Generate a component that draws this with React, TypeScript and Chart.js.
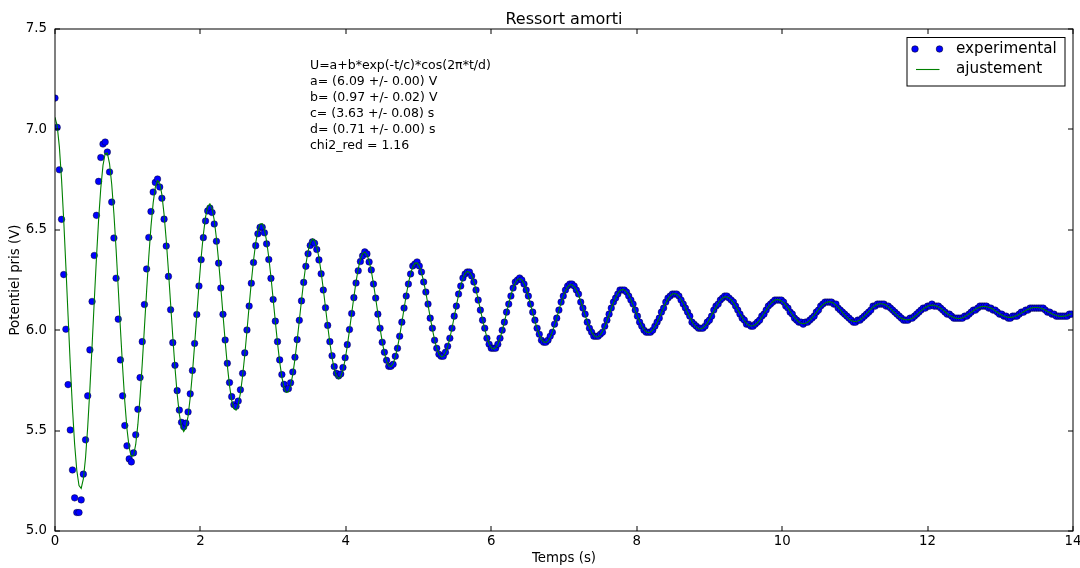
import React, { useEffect, useRef } from 'react';
import { Chart, registerables } from 'chart.js';

Chart.register(...registerables);

// Sampling interval of the acquisition (s), read from the spacing of the points
const SAMPLE_STEP = 0.03;

// Measured potential (V), one value per sample
const experimental: number[] = [
  7.156, 7.010, 6.799, 6.552, 6.277, 6.005, 5.729, 5.503, 5.304, 5.165,
  5.092, 5.092, 5.155, 5.283, 5.454, 5.673, 5.902, 6.143, 6.372, 6.572,
  6.741, 6.860, 6.927, 6.937, 6.887, 6.788, 6.638, 6.459, 6.259, 6.055,
  5.852, 5.673, 5.525, 5.424, 5.359, 5.344, 5.389, 5.479, 5.606, 5.764,
  5.943, 6.128, 6.305, 6.462, 6.591, 6.688, 6.736, 6.753, 6.713, 6.657,
  6.553, 6.419, 6.268, 6.102, 5.938,
  5.825, 5.699, 5.602, 5.541, 5.519, 5.537, 5.593, 5.683, 5.799, 5.934,
  6.078, 6.220, 6.351, 6.461, 6.544, 6.594,
  6.608, 6.586, 6.529, 6.443, 6.334, 6.210, 6.079, 5.951, 5.835, 5.739,
  5.669, 5.629, 5.621, 5.647, 5.703, 5.785, 5.887, 6.001, 6.120, 6.234,
  6.337, 6.421, 6.480, 6.512, 6.513, 6.485, 6.430, 6.352, 6.258, 6.153,
  6.045, 5.943, 5.852, 5.779, 5.730, 5.706, 5.709, 5.738, 5.792, 5.865,
  5.953, 6.049, 6.146, 6.238, 6.318, 6.381, 6.422, 6.440, 6.433, 6.402,
  6.350, 6.281, 6.200, 6.112, 6.024, 5.943, 5.873, 5.819, 5.785, 5.772,
  5.782, 5.814, 5.863, 5.928, 6.003, 6.083, 6.162, 6.235, 6.296, 6.342,
  6.370,
  6.39, 6.38, 6.34, 6.30, 6.23, 6.16, 6.08, 6.01, 5.94, 5.89,
  5.85, 5.82, 5.82, 5.83, 5.87, 5.91, 5.97, 6.04, 6.11, 6.17,
  6.23, 6.28, 6.32, 6.33, 6.34, 6.32, 6.29, 6.24, 6.19, 6.13,
  6.06, 6.01, 5.95, 5.91, 5.88, 5.87, 5.87, 5.89, 5.92, 5.96,
  6.01, 6.07, 6.12, 6.18, 6.22, 6.26, 6.28, 6.29, 6.29, 6.27,
  6.24, 6.20, 6.15, 6.10, 6.05, 6.01, 5.96, 5.93, 5.91, 5.91,
  5.91, 5.93, 5.96, 6.00, 6.04, 6.09, 6.13, 6.17, 6.21, 6.24,
  6.25,
  6.26, 6.25, 6.23, 6.20, 6.17, 6.13, 6.09, 6.05, 6.01, 5.98,
  5.95, 5.94, 5.94, 5.95, 5.97, 5.99, 6.03, 6.06, 6.10, 6.14,
  6.17, 6.20, 6.22, 6.23, 6.23, 6.22, 6.20, 6.18, 6.14, 6.11,
  6.08, 6.04, 6.01, 5.99, 5.97, 5.97, 5.97, 5.98, 5.99, 6.02,
  6.05, 6.08, 6.11, 6.14, 6.16, 6.18, 6.20, 6.20, 6.20, 6.19,
  6.17, 6.15, 6.13, 6.10, 6.07, 6.04, 6.02, 6.00, 5.99, 5.99,
  5.99, 6.00, 6.02, 6.04, 6.06, 6.09, 6.11, 6.14, 6.16, 6.17,
  6.18,
  6.18, 6.18, 6.17, 6.15, 6.13, 6.11, 6.09, 6.07, 6.04, 6.03,
  6.02, 6.01, 6.01, 6.01, 6.02, 6.04, 6.05, 6.07, 6.10, 6.12,
  6.13, 6.15, 6.16, 6.17, 6.17, 6.16, 6.15, 6.14, 6.12, 6.10,
  6.08, 6.06, 6.05, 6.03, 6.03, 6.02, 6.02, 6.03, 6.04, 6.05,
  6.07, 6.08, 6.10, 6.12, 6.13, 6.14, 6.15, 6.15, 6.15, 6.15,
  6.14, 6.12, 6.11, 6.09, 6.08, 6.06, 6.05, 6.04, 6.04, 6.03,
  6.04, 6.04, 6.05, 6.06, 6.07, 6.09, 6.10, 6.12, 6.13, 6.14,
  6.14,
  6.14, 6.14, 6.13, 6.13, 6.11, 6.10, 6.09, 6.08, 6.07, 6.06,
  6.05, 6.04, 6.04, 6.05, 6.05, 6.06, 6.07, 6.08, 6.09, 6.10,
  6.12, 6.12, 6.13, 6.13, 6.13, 6.13, 6.12, 6.12, 6.11, 6.10,
  6.09, 6.08, 6.07, 6.06, 6.05, 6.05, 6.05, 6.06, 6.06, 6.07,
  6.08, 6.09, 6.10, 6.11, 6.11, 6.12, 6.12, 6.13, 6.12, 6.12,
  6.12, 6.11, 6.10, 6.09, 6.08, 6.08, 6.07, 6.06, 6.06, 6.06,
  6.06, 6.06, 6.07, 6.07, 6.08, 6.09, 6.10, 6.10, 6.11, 6.12,
  6.12,
  6.12, 6.12, 6.11, 6.11, 6.10, 6.10, 6.09, 6.08, 6.08, 6.07,
  6.07, 6.06, 6.06, 6.07, 6.07, 6.07, 6.08, 6.09, 6.09, 6.10,
  6.10, 6.11, 6.11, 6.11, 6.11, 6.11, 6.11, 6.11, 6.10, 6.09,
  6.09, 6.08, 6.08, 6.07, 6.07, 6.07, 6.07, 6.07, 6.07, 6.08,
  6.08,
];

// Fitted curve (V), same sample times
const ajustement: number[] = [
  7.060, 7.018, 6.913, 6.751, 6.547, 6.314, 6.070, 5.830, 5.613, 5.432,
  5.301, 5.226, 5.212, 5.260, 5.365, 5.519, 5.709, 5.923, 6.145, 6.360,
  6.552, 6.709, 6.821, 6.880, 6.882, 6.830, 6.727, 6.581, 6.404, 6.208,
  6.006, 5.814, 5.644, 5.508, 5.415, 5.370, 5.376, 5.431, 5.532, 5.669,
  5.834, 6.014, 6.196, 6.367, 6.517, 6.634, 6.712, 6.745, 6.732, 6.675,
  6.577, 6.448, 6.296, 6.132, 5.967, 5.814, 5.683, 5.582, 5.518, 5.495,
  5.514, 5.572, 5.666, 5.787, 5.928, 6.077, 6.225, 6.362, 6.476, 6.563,
  6.615,
  6.629, 6.606, 6.548, 6.458, 6.344, 6.215, 6.079, 5.946, 5.825, 5.724,
  5.651, 5.609, 5.602, 5.629, 5.687, 5.772, 5.878, 5.997, 6.121, 6.240,
  6.347, 6.434, 6.496, 6.529, 6.531, 6.502, 6.444, 6.363, 6.265, 6.155,
  6.044, 5.937, 5.842, 5.766, 5.715, 5.690, 5.693, 5.724, 5.780, 5.856,
  5.948, 6.048, 6.149, 6.244, 6.327, 6.393, 6.436, 6.454, 6.447, 6.415,
  6.361, 6.289, 6.204, 6.113, 6.022, 5.937, 5.864, 5.807, 5.772, 5.759,
  5.769, 5.802, 5.854, 5.922, 6.000, 6.083, 6.165, 6.241, 6.305, 6.353,
  6.382,
  6.390, 6.377, 6.344, 6.295, 6.231, 6.159, 6.084, 6.010, 5.943, 5.887,
  5.846, 5.823, 5.819, 5.833, 5.866, 5.913, 5.972, 6.038, 6.107, 6.174,
  6.233, 6.282, 6.316, 6.334, 6.335, 6.319, 6.287, 6.242, 6.187, 6.126,
  6.064, 6.005, 5.952, 5.910, 5.881, 5.867, 5.869, 5.886, 5.917, 5.960,
  6.011, 6.066, 6.123, 6.176, 6.222, 6.258, 6.282, 6.293, 6.289, 6.271,
  6.241, 6.201, 6.154, 6.103, 6.052, 6.005, 5.964, 5.933, 5.913, 5.906,
  5.912, 5.930, 5.959, 5.996, 6.040, 6.086, 6.132, 6.174, 6.210, 6.236,
  6.252,
  6.257, 6.250, 6.232, 6.204, 6.169, 6.129, 6.086, 6.045, 6.008, 5.977,
  5.954, 5.941, 5.939, 5.947, 5.965, 5.992, 6.025, 6.061, 6.100, 6.136,
  6.170, 6.197, 6.216, 6.226, 6.226, 6.217, 6.200, 6.175, 6.144, 6.110,
  6.076, 6.043, 6.013, 5.990, 5.974, 5.966, 5.967, 5.977, 5.994, 6.018,
  6.046, 6.077, 6.108, 6.138, 6.163, 6.184, 6.197, 6.203, 6.200, 6.191,
  6.174, 6.152, 6.125, 6.097, 6.069, 6.043, 6.020, 6.003, 5.992, 5.988,
  5.991, 6.001, 6.017, 6.038, 6.062, 6.088, 6.113, 6.137, 6.156, 6.171,
  6.180,
  6.183, 6.179, 6.169, 6.153, 6.134, 6.111, 6.088, 6.065, 6.044, 6.027,
  6.015, 6.007, 6.006, 6.011, 6.021, 6.035, 6.054, 6.074, 6.095, 6.116,
  6.134, 6.149, 6.160, 6.166, 6.166, 6.161, 6.151, 6.137, 6.120, 6.101,
  6.082, 6.064, 6.047, 6.034, 6.025, 6.021, 6.022, 6.027, 6.037, 6.050,
  6.066, 6.083, 6.100, 6.117, 6.131, 6.142, 6.150, 6.153, 6.151, 6.146,
  6.137, 6.124, 6.110, 6.094, 6.078, 6.064, 6.051, 6.041, 6.035, 6.033,
  6.035, 6.040, 6.049, 6.061, 6.074, 6.089, 6.103, 6.116, 6.127, 6.135,
  6.140,
  6.142, 6.139, 6.134, 6.125, 6.114, 6.102, 6.089, 6.076, 6.065, 6.055,
  6.048, 6.044, 6.043, 6.046, 6.051, 6.060, 6.070, 6.081, 6.093, 6.104,
  6.115, 6.123, 6.129, 6.132, 6.132, 6.129, 6.124, 6.116, 6.107, 6.096,
  6.086, 6.075, 6.066, 6.059, 6.054, 6.052, 6.052, 6.055, 6.060, 6.068,
  6.076, 6.086, 6.096, 6.105, 6.113, 6.119, 6.123, 6.125, 6.124, 6.121,
  6.116, 6.109, 6.101, 6.092, 6.083, 6.075, 6.068, 6.063, 6.060, 6.058,
  6.059, 6.062, 6.067, 6.074, 6.081, 6.089, 6.097, 6.104, 6.111, 6.115,
  6.118,
  6.119, 6.117, 6.114, 6.110, 6.104, 6.097, 6.089, 6.082, 6.076, 6.071,
  6.067, 6.064, 6.064, 6.065, 6.069, 6.073, 6.079, 6.085, 6.092, 6.098,
  6.104, 6.108, 6.112, 6.113, 6.113, 6.112, 6.109, 6.105, 6.099, 6.093,
  6.088, 6.082, 6.077, 6.073, 6.070, 6.069, 6.069, 6.071, 6.073, 6.078,
  6.082,
];

const xTicks: number[] = [0, 2, 4, 6, 8, 10, 12, 14];
const yTicks: number[] = [5.0, 5.5, 6.0, 6.5, 7.0, 7.5];

const TITLE = 'Ressort amorti';
const X_LABEL = 'Temps (s)';
const Y_LABEL = 'Potentiel pris (V)';
const LEGEND_LABELS: string[] = ['experimental', 'ajustement'];
const FIT_TEXT: string[] = [
  'U=a+b*exp(-t/c)*cos(2π*t/d)',
  'a= (6.09 +/- 0.00) V',
  'b= (0.97 +/- 0.02) V',
  'c= (3.63 +/- 0.08) s',
  'd= (0.71 +/- 0.00) s',
  'chi2_red = 1.16',
];

const FONT = "'DejaVu Sans', 'Bitstream Vera Sans', sans-serif";
const POINT_BLUE = '#0000ff';
const LINE_GREEN = '#008000';

const decorPlugin = {
  id: 'decor',
  afterDraw(chart: any) {
    const { ctx, chartArea: a, scales } = chart;
    ctx.save();

    // frame
    ctx.strokeStyle = '#000';
    ctx.lineWidth = 1;
    ctx.strokeRect(a.left, a.top, a.right - a.left, a.bottom - a.top);

    // inward ticks on the four sides
    const L = 5;
    ctx.beginPath();
    xTicks.forEach((v) => {
      const px = Math.round(scales.x.getPixelForValue(v));
      ctx.moveTo(px, a.bottom);
      ctx.lineTo(px, a.bottom - L);
      ctx.moveTo(px, a.top);
      ctx.lineTo(px, a.top + L);
    });
    yTicks.forEach((v) => {
      const py = Math.round(scales.y.getPixelForValue(v));
      ctx.moveTo(a.left, py);
      ctx.lineTo(a.left + L, py);
      ctx.moveTo(a.right, py);
      ctx.lineTo(a.right - L, py);
    });
    ctx.stroke();

    // title
    ctx.fillStyle = '#000';
    ctx.font = `16px ${FONT}`;
    ctx.textAlign = 'center';
    ctx.textBaseline = 'alphabetic';
    ctx.fillText(TITLE, (a.left + a.right) / 2, 24);

    // fit parameters text
    ctx.font = `12.5px ${FONT}`;
    ctx.textAlign = 'left';
    FIT_TEXT.forEach((line, i) => {
      ctx.fillText(line, 310, 69 + i * 15.95);
    });

    // legend
    const lx = 907, ly = 37.5, lw = 158, lh = 48.5;
    ctx.fillStyle = '#fff';
    ctx.fillRect(lx, ly, lw, lh);
    ctx.strokeStyle = '#000';
    ctx.lineWidth = 1;
    ctx.strokeRect(lx, ly, lw, lh);

    const row1 = 49, row2 = 69.5;
    [915, 939.5].forEach((cx) => {
      ctx.beginPath();
      ctx.arc(cx, row1, 3.3, 0, Math.PI * 2);
      ctx.fillStyle = POINT_BLUE;
      ctx.fill();
      ctx.lineWidth = 0.5;
      ctx.strokeStyle = '#000';
      ctx.stroke();
    });
    ctx.beginPath();
    ctx.moveTo(916, row2);
    ctx.lineTo(939.5, row2);
    ctx.strokeStyle = LINE_GREEN;
    ctx.lineWidth = 1.1;
    ctx.stroke();

    ctx.fillStyle = '#000';
    ctx.font = `15.2px ${FONT}`;
    ctx.textAlign = 'left';
    ctx.textBaseline = 'middle';
    ctx.fillText(LEGEND_LABELS[0], 956, row1);
    ctx.fillText(LEGEND_LABELS[1], 956, row2);

    ctx.restore();
  },
};

export default function App() {
  const canvasRef = useRef<HTMLCanvasElement | null>(null);

  useEffect(() => {
    const canvas = canvasRef.current;
    if (!canvas) return;

    const expPoints = experimental.map((v, i) => ({ x: i * SAMPLE_STEP, y: v }));
    const fitPoints = ajustement.map((v, i) => ({ x: i * SAMPLE_STEP, y: v }));

    const chart = new Chart(canvas, {
      type: 'line',
      data: {
        datasets: [
          {
            label: LEGEND_LABELS[1],
            data: fitPoints,
            borderColor: LINE_GREEN,
            borderWidth: 1.1,
            pointRadius: 0,
            fill: false,
            tension: 0,
            order: 0,
            clip: 0,
          } as any,
          {
            label: LEGEND_LABELS[0],
            data: expPoints,
            showLine: false,
            pointRadius: 3.3,
            pointBackgroundColor: POINT_BLUE,
            pointBorderColor: 'rgba(0,0,0,0.8)',
            pointBorderWidth: 0.5,
            order: 1,
            clip: 0,
          } as any,
        ],
      },
      options: {
        responsive: false,
        animation: false,
        devicePixelRatio: 1,
        events: [],
        layout: { padding: { left: 0, right: 7, top: 29, bottom: 0 } },
        plugins: {
          legend: { display: false },
          title: { display: false },
          tooltip: { enabled: false },
        },
        scales: {
          x: {
            type: 'linear',
            min: 0,
            max: 14,
            grid: { display: false, drawTicks: false },
            border: { display: false },
            afterFit: (s: any) => {
              s.height = 37;
              s.paddingLeft = 0;
              s.paddingRight = 0;
            },
            afterBuildTicks: (s: any) => { s.ticks = xTicks.map((v) => ({ value: v })); },
            ticks: {
              color: '#000',
              padding: 3,
              maxRotation: 0,
              autoSkip: false,
              font: { family: FONT, size: 13.33 },
              callback: (v: any) => String(v),
            },
            title: {
              display: true,
              text: X_LABEL,
              color: '#000',
              font: { family: FONT, size: 13.33 },
              padding: { top: 0, bottom: 1 },
            },
          },
          y: {
            type: 'linear',
            min: 5,
            max: 7.5,
            grid: { display: false, drawTicks: false },
            border: { display: false },
            afterFit: (s: any) => {
              s.width = 55;
              s.paddingTop = 0;
              s.paddingBottom = 0;
            },
            afterBuildTicks: (s: any) => { s.ticks = yTicks.map((v) => ({ value: v })); },
            ticks: {
              color: '#000',
              padding: 8,
              autoSkip: false,
              font: { family: FONT, size: 13.33 },
              callback: (v: any) => Number(v).toFixed(1),
            },
            title: {
              display: true,
              text: Y_LABEL,
              color: '#000',
              font: { family: FONT, size: 13.33 },
              padding: { top: 8, bottom: 0 },
            },
          },
        },
      },
      plugins: [decorPlugin],
    });

    return () => chart.destroy();
  }, []);

  return (
    <div style={{ position: 'fixed', left: 0, top: 0, width: 1080, height: 568, background: '#fff' }}>
      <canvas ref={canvasRef} width={1080} height={568} style={{ display: 'block', width: 1080, height: 568 }} />
    </div>
  );
}
